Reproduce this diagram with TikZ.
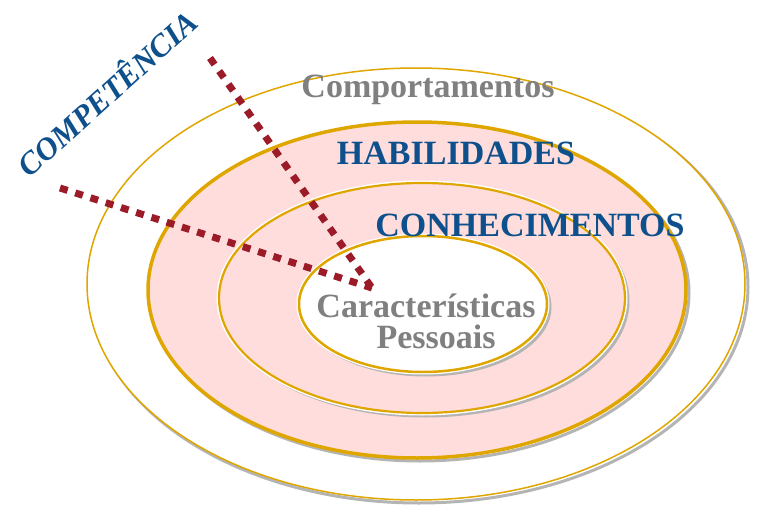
\documentclass[tikz,border=0pt]{standalone}
\usepackage{fontspec}
\setmainfont{Liberation Serif}
\definecolor{gold}{RGB}{224,166,0}
\definecolor{pinkfill}{RGB}{255,221,221}
\definecolor{txtblue}{RGB}{14,80,140}
\definecolor{txtgray}{RGB}{128,128,128}
\definecolor{dotred}{RGB}{155,27,40}
\definecolor{shadowgray}{RGB}{180,180,180}
\begin{document}
\begin{tikzpicture}[x=1pt,y=-1pt,
  shadowline/.style={draw=shadowgray,line width=3pt},
  ring/.style={draw=gold},
  label/.style={font=\bfseries\fontsize{34}{36}\selectfont,anchor=base,inner sep=0pt},
  bluelabel/.style={label,text=txtblue},
  graylabel/.style={label,text=txtgray},
  dotline/.style={draw=dotred,line width=7pt,dash pattern=on 8pt off 8pt}]
\useasboundingbox (0,0) rectangle (758,511);
% outer ellipse: Comportamentos
\draw[shadowline] (419,287) ellipse [x radius=329,y radius=216];
\draw[ring,fill=white,line width=1.5pt] (416,284) ellipse [x radius=329,y radius=216];
% Habilidades
\draw[shadowline] (420,293) ellipse [x radius=269,y radius=168];
\draw[ring,fill=pinkfill,line width=3.5pt] (417,290) ellipse [x radius=269,y radius=168];
% Conhecimentos
\draw[shadowline] (425,301) ellipse [x radius=203,y radius=115];
\draw[white,line width=5pt] (422,298) ellipse [x radius=203,y radius=115];
\draw[ring,fill=pinkfill,line width=2.2pt] (422,298) ellipse [x radius=203,y radius=115];
% Caracteristicas pessoais
\draw[shadowline] (426,307) ellipse [x radius=124,y radius=68];
\draw[white,line width=5pt] (423,304) ellipse [x radius=124,y radius=68];
\draw[ring,fill=white,line width=2.5pt] (423,304) ellipse [x radius=124,y radius=68];
% dotted lines
\coordinate (d1s) at (210,58);
\coordinate (d2s) at (60,188);
\coordinate (dc) at (372,288);
\draw[dotline] (d1s) -- (dc);
\draw[dotline] (d2s) -- (dc);
% labels
\node[graylabel] (comp) at (428,97) {Comportamentos};
\node[bluelabel] (hab) at (456,164) {HABILIDADES};
\node[bluelabel] (con) at (530,236) {CONHECIMENTOS};
\node[graylabel] (car) at (426,317) {Características};
\node[graylabel] (pes) at (436,348) {Pessoais};
\node[text=txtblue,font=\bfseries\itshape\fontsize{31.5}{34}\selectfont,rotate=42,inner sep=0pt] (compet) at (106,92) {COMPETÊNCIA};
\end{tikzpicture}
\end{document}
